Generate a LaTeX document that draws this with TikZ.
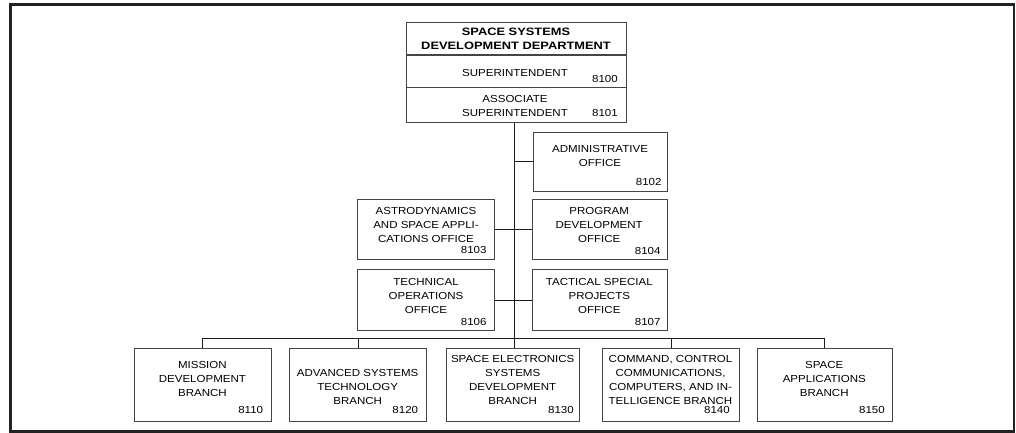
\documentclass[tikz,border=0pt]{standalone}
\usepackage{fontspec}
\setmainfont{Liberation Sans}
\newfontfamily\regf[FakeStretch=1.13]{Liberation Sans}
\newfontfamily\boldf[FakeStretch=1.2]{Liberation Sans}
\definecolor{boxc}{HTML}{454545}
\definecolor{linec}{HTML}{1A1A1A}
\definecolor{framec}{HTML}{222222}
\newcommand\boxlines[4]{%
  \foreach \t [count=\i] in {#4}
    \node[txt] (#1-\i) at (#2, {#3+(\i-1)*14.3}) {\t};}
\begin{document}
\begin{tikzpicture}[x=1pt,y=-1pt,
  box/.style={draw=boxc, line width=1.1pt, inner sep=0pt, anchor=north west},
  conn/.style={draw=linec, line width=0.9pt},
  txt/.style={font=\regf\fontsize{10.2}{12}\selectfont, inner sep=0pt, anchor=base, text=black},
  ttl/.style={font=\boldf\bfseries\fontsize{10.7}{12}\selectfont, inner sep=0pt, anchor=base, text=black},
  num/.style={txt, anchor=base east}]
\useasboundingbox (0,0) rectangle (1016,433);
\draw[draw=framec, line width=2.8pt] (10.7,4.3) rectangle (1014,431.8);

% boxes
\node[box, minimum width=220pt, minimum height=99.5pt] (top) at (406,22) {};
\draw[draw=boxc, line width=1.1pt] (top.west |- 0,55) -- (top.east |- 0,55);
\draw[draw=boxc, line width=1.1pt] (top.west |- 0,87.5) -- (top.east |- 0,87.5);
\node[box, minimum width=134pt, minimum height=59pt] (admin) at (532.7,131.7) {};
\node[box, minimum width=137pt, minimum height=59.7pt] (astro) at (357.3,199.3) {};
\node[box, minimum width=135pt, minimum height=59.7pt] (program) at (531.7,199.3) {};
\node[box, minimum width=137pt, minimum height=60.3pt] (tech) at (357.3,269.3) {};
\node[box, minimum width=134.7pt, minimum height=60.3pt] (tact) at (532,269.3) {};
\node[box, minimum width=136.7pt, minimum height=73.5pt] (mission) at (134,347.5) {};
\node[box, minimum width=136.7pt, minimum height=73.5pt] (adv) at (289.3,347.5) {};
\node[box, minimum width=133.3pt, minimum height=73.5pt] (elec) at (446,347.5) {};
\node[box, minimum width=137.6pt, minimum height=73.5pt] (cmd) at (601.7,347.5) {};
\node[box, minimum width=135.3pt, minimum height=73.5pt] (apps) at (756.7,347.5) {};

% connectors
\coordinate (bus) at (514.5,338.5);
\draw[conn] (top.south -| bus) -- (bus) -- (bus |- elec.north);
\draw[conn] (admin.west) -- (admin.west -| bus);
\draw[conn] (astro.east) -- (program.west);
\draw[conn] (tech.east) -- (tact.west);
\draw[conn] (mission.north) |- (apps.north |- bus) -- (apps.north);
\draw[conn] (adv.north) -- (adv.north |- bus);
\draw[conn] (cmd.north) -- (cmd.north |- bus);

% texts
\node[ttl] (t1) at (516,36) {SPACE SYSTEMS};
\node[ttl] (t2) at (516,50) {DEVELOPMENT DEPARTMENT};
\node[txt] (s1) at (515,76.7) {SUPERINTENDENT};
\node[num] (n8100) at (618,82.5) {8100};
\node[txt] (a1) at (515,102.7) {ASSOCIATE};
\node[txt] (a2) at (515,116.7) {SUPERINTENDENT};
\node[num] (n8101) at (618,116.7) {8101};

\boxlines{adm}{600}{152}{ADMINISTRATIVE,OFFICE}
\node[num] (n8102) at (661.7,185) {8102};
\boxlines{ast}{426}{214.3}{ASTRODYNAMICS,AND SPACE APPLI-,CATIONS OFFICE}
\node[num] (n8103) at (486.7,253.3) {8103};
\boxlines{prg}{599.2}{214}{PROGRAM,DEVELOPMENT,OFFICE}
\node[num] (n8104) at (660.7,254) {8104};
\boxlines{tec}{426}{285}{TECHNICAL,OPERATIONS,OFFICE}
\node[num] (n8106) at (486.7,325.5) {8106};
\boxlines{tac}{599.3}{285}{TACTICAL SPECIAL,PROJECTS,OFFICE}
\node[num] (n8107) at (660.7,325.5) {8107};

\boxlines{mis}{202.4}{368}{MISSION,DEVELOPMENT,BRANCH}
\node[num] (n8110) at (263.3,413.5) {8110};
\boxlines{adv}{357.7}{376}{ADVANCED SYSTEMS,TECHNOLOGY,BRANCH}
\node[num] (n8120) at (418.3,413.5) {8120};
\boxlines{ele}{512.7}{362}{SPACE ELECTRONICS,SYSTEMS,DEVELOPMENT,BRANCH}
\node[num] (n8130) at (574,413.5) {8130};
\boxlines{cmd}{670.5}{362}{{COMMAND, CONTROL},{COMMUNICATIONS,},{COMPUTERS, AND IN-},TELLIGENCE BRANCH}
\node[num] (n8140) at (730,413.5) {8140};
\boxlines{app}{824.3}{368}{SPACE,APPLICATIONS,BRANCH}
\node[num] (n8150) at (885,413.5) {8150};
\end{tikzpicture}
\end{document}
